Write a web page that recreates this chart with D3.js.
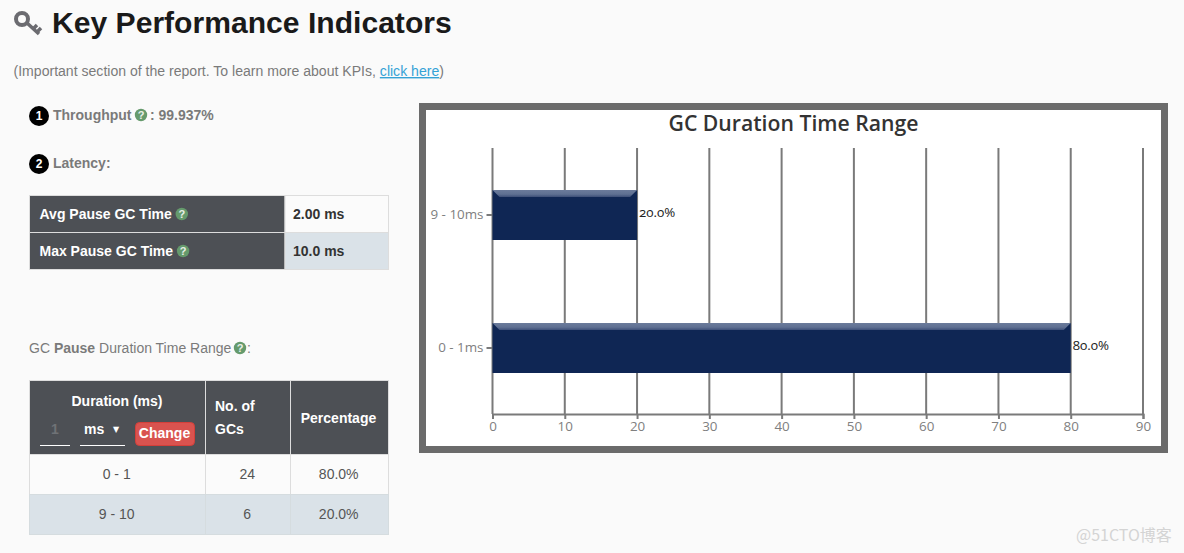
<!DOCTYPE html>
<html>
<head>
<meta charset="utf-8">
<script src="https://cdn.jsdelivr.net/npm/d3@7"></script>
<style>
html, body { margin: 0; padding: 0; background: #fafafa; overflow: hidden; }
svg { display: block; }
text { font-family: "Liberation Sans", Arial, sans-serif; }
.chart-text { font-family: "Open Sans", sans-serif; }
</style>
</head>
<body>
<div id="page"></div>
<script>
const width = 1184,
    height = 553;

// Valores
const rangeLabels = ["9 - 10ms", "0 - 1ms"];
const rangePercent = [20, 80];
const xTicks = [0, 10, 20, 30, 40, 50, 60, 70, 80, 90];

// Tabelas da esquerda
const kpiNames = ["Avg Pause GC Time", "Max Pause GC Time"];
const kpiValues = ["2.00 ms", "10.0 ms"];
const tableRanges = ["0 - 1", "9 - 10"];
const tableCounts = ["24", "6"];
const tablePercents = ["80.0%", "20.0%"];

const svg = d3.select("#page")
    .append("svg")
    .attr("width", width)
    .attr("height", height);

const dark = "#4d5055", pale = "#dae2e8", light = "#fbfbfb", line = "#dddddd", grey = "#7a7a7a";

function label(x, y, str, size, fill, weight, anchor) {
    return svg.append("text")
        .attr("x", x)
        .attr("y", y)
        .attr("font-size", size)
        .attr("fill", fill)
        .attr("font-weight", weight || "normal")
        .attr("text-anchor", anchor || "start")
        .text(str);
}

function box(x, y, w, h, fill, stroke) {
    return svg.append("rect")
        .attr("x", x)
        .attr("y", y)
        .attr("width", w)
        .attr("height", h)
        .attr("fill", fill)
        .attr("stroke", stroke || "none");
}

function helpIcon(cx, cy) {
    svg.append("circle").attr("cx", cx).attr("cy", cy).attr("r", 6.2).attr("fill", "#659a6c");
    label(cx, cy + 4, "?", 11, "#e8efe8", "bold", "middle");
}

function badge(cx, cy, str) {
    svg.append("circle").attr("cx", cx).attr("cy", cy).attr("r", 10).attr("fill", "#000");
    label(cx, cy + 4, str, 12, "#fff", "bold", "middle");
}

// Cabecalho
const key = svg.append("g").attr("fill", "none").attr("stroke", "#6b6b70");
key.append("circle").attr("cx", 22).attr("cy", 19).attr("r", 6).attr("stroke-width", 4);
key.append("path").attr("stroke-width", 3.5).attr("d", "M27,23L39,34M33,29L37,25M37,32L41,28");
label(52, 33, "Key Performance Indicators", 30.1, "#1a1a1a", "bold");

const intro = label(13.5, 76, "(Important section of the report. To learn more about KPIs, ", 14.07, grey);
intro.append("tspan").attr("fill", "#35a2d6").attr("text-decoration", "underline").text("click here");
intro.append("tspan").text(")");

// KPIs
badge(39, 116, "1");
label(53, 120, "Throughput", 14, grey, "bold");
helpIcon(141, 115);
label(150, 120, ": 99.937%", 14, grey, "bold");
badge(39, 164, "2");
label(53, 168, "Latency:", 14, grey, "bold");

const kpiRow = d3.scaleBand().domain(kpiNames).range([195.5, 269.5]);
kpiNames.forEach((name, i) => {
    const y = kpiRow(name), h = kpiRow.bandwidth();
    box(29.5, y, 255.5, h, dark, line);
    box(285, y, 103.5, h, i ? pale : light, line);
    const t = label(39.5, y + 23.5, name, 14, "#fff", "bold");
    helpIcon(39.5 + t.node().getComputedTextLength() + 10, y + 18.5);
    label(293, y + 23.5, kpiValues[i], 14, "#333", "bold");
});

const rangeTitle = label(29, 353, "GC ", 14, grey);
rangeTitle.append("tspan").attr("font-weight", "bold").text("Pause");
rangeTitle.append("tspan").text(" Duration Time Range");
helpIcon(240, 348);
label(247, 353, ":", 14, grey);

// Tabela de duracao
const colX = [29.5, 205.5, 290.5, 388.5];
const headY = 380.5, headBottom = 454.5;
d3.range(3).forEach(i => box(colX[i], headY, colX[i + 1] - colX[i], headBottom - headY, dark, line));
label(117, 406, "Duration (ms)", 14, "#fff", "bold", "middle");
label(55, 434, "1", 14, "#6f7276", "bold", "middle");
svg.append("path").attr("stroke", "#fff").attr("d", "M40,445.5H70M80,445.5H125");
label(84, 434, "ms", 14, "#fff", "bold");
label(116, 432, "▼", 8, "#fff", "normal", "middle").style("font-family", "DejaVu Sans");
box(135.5, 422.5, 59, 23, "#d9534f", "#d43f3a").attr("rx", 4);
label(164.5, 438, "Change", 14, "#fff", "bold", "middle");
label(215, 411, "No. of", 14, "#fff", "bold");
label(215, 434, "GCs", 14, "#fff", "bold");
label(338.5, 423, "Percentage", 14, "#fff", "bold", "middle");

const tableRow = d3.scaleBand().domain(tableRanges).range([headBottom, 534.5]);
tableRanges.forEach((name, i) => {
    const y = tableRow(name), h = tableRow.bandwidth();
    [tableRanges, tableCounts, tablePercents].forEach((col, c) => {
        box(colX[c], y, colX[c + 1] - colX[c], h, i ? pale : light, i ? "#d5dcdf" : line);
        label((colX[c] + colX[c + 1]) / 2 - 0.8, y + 24.5, col[i], 14, "#555", "normal", "middle");
    });
});

// Grafico de barras
svg.append("rect")
    .attr("x", 422.5)
    .attr("y", 106.5)
    .attr("width", 742)
    .attr("height", 343)
    .attr("fill", "#fff")
    .attr("stroke", "#6b6b6b")
    .attr("stroke-width", 7);

svg.append("text")
    .attr("class", "chart-text")
    .attr("x", 793.5)
    .attr("y", 131)
    .attr("text-anchor", "middle")
    .attr("font-size", 21.2)
    .attr("font-weight", 600)
    .attr("fill", "#333")
    .text("GC Duration Time Range");

const x = d3.scaleLinear().domain([0, 90]).range([492.5, 1143]);
const y = d3.scaleBand()
    .domain(rangeLabels)
    .range([148.5, 414.5])
    .paddingInner(83 / 133)
    .paddingOuter(41.5 / 133);

const xAxis = d3.axisBottom(x)
    .tickValues(xTicks)
    .tickSize(5)
    .tickPadding(2);
const yAxis = d3.axisLeft(y)
    .tickSize(6)
    .tickPadding(3);

// Linhas de grelha
svg.append("g")
    .selectAll("line")
    .data(xTicks)
    .enter()
    .append("line")
    .attr("x1", d => x(d))
    .attr("x2", d => x(d))
    .attr("y1", 148)
    .attr("y2", 414)
    .attr("stroke", "#7a7a7a")
    .attr("stroke-width", 2);

const xG = svg.append("g")
    .attr("class", "chart-text")
    .attr("transform", "translate(0,414)")
    .call(xAxis);
const yG = svg.append("g")
    .attr("class", "chart-text")
    .attr("transform", "translate(492.5,0)")
    .call(yAxis);

[xG, yG].forEach(g => {
    g.selectAll("text")
        .attr("fill", "#808080")
        .attr("font-size", 13.4)
        .style("font-family", "Open Sans");
    g.selectAll("line").attr("stroke", "#7a7a7a").attr("stroke-width", 2);
});
xG.select(".domain").attr("stroke", "#7a7a7a").attr("stroke-width", 2);
yG.select(".domain").remove();

const defs = svg.append("defs");
const bevel = defs.append("linearGradient")
    .attr("id", "bevel")
    .attr("x1", 0).attr("x2", 0).attr("y1", 0).attr("y2", 1);
bevel.append("stop").attr("offset", "0%").attr("stop-color", "#6b7b9b");
bevel.append("stop").attr("offset", "60%").attr("stop-color", "#5f7092");
bevel.append("stop").attr("offset", "100%").attr("stop-color", "#3d4f78");

const bars = svg.append("g")
    .selectAll("g")
    .data(rangeLabels)
    .enter()
    .append("g");

bars.append("rect")
    .attr("x", x(0))
    .attr("y", d => y(d))
    .attr("width", (d, i) => x(rangePercent[i]) - x(0))
    .attr("height", y.bandwidth())
    .attr("fill", "#0f2654");

// Bisel no topo das barras
bars.append("path")
    .attr("fill", "url(#bevel)")
    .attr("d", (d, i) => {
        const x0 = x(0), x1 = x(rangePercent[i]), t = y(d), b = 7;
        return `M${x0},${t}H${x1}L${x1 - b},${t + b}H${x0 + b}Z`;
    });

bars.append("text")
    .attr("class", "chart-text")
    .attr("x", (d, i) => x(rangePercent[i]) + 2)
    .attr("y", d => y(d) + y.bandwidth() / 2 + 2)
    .attr("font-size", 13.3)
    .attr("fill", "#222")
    .style("font-variant-numeric", "oldstyle-nums")
    .text((d, i) => rangePercent[i].toFixed(1) + "%");

// Marca de agua
label(1076, 541, "@51CTO博客", 16, "#d4d4d4").style("font-family", "Noto Sans CJK SC");
</script>
</body>
</html>
